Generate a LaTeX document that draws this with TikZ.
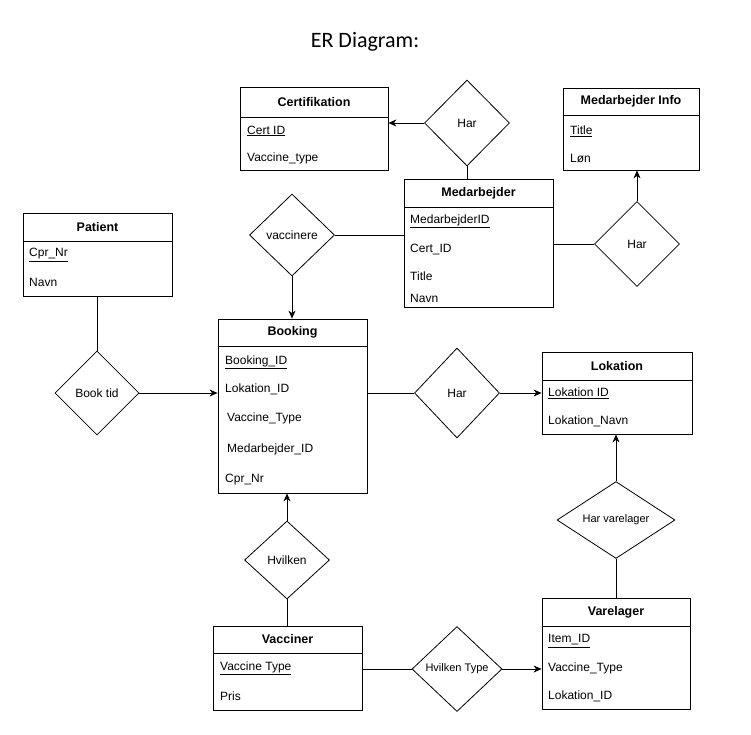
\documentclass[tikz,border=0pt]{standalone}
\usepackage{fontspec}
\setmainfont{Liberation Sans}
\newfontfamily\titlefont{Carlito}
\usetikzlibrary{shapes.geometric,arrows.meta}
\newcommand\pk[1]{\underline{#1}}
\begin{document}
\begin{tikzpicture}[x=1pt,y=-1pt,
  entity/.style={draw, line width=0.8pt, inner sep=0pt},
  hdr/.style={font=\fontsize{12.5}{14}\selectfont\bfseries, inner sep=0pt},
  attr/.style={font=\fontsize{12}{14}\selectfont, anchor=west, inner sep=0pt},
  rel/.style={draw, diamond, line width=0.8pt, inner sep=0pt, font=\fontsize{12}{14}\selectfont},
  link/.style={line width=0.8pt},
  arr/.style={line width=0.8pt, -{Stealth[length=8pt,width=7pt,inset=2.5pt]}}
]
\useasboundingbox (0,0) rectangle (751,734);

\node[font=\titlefont\fontsize{22}{26}\selectfont, inner sep=0pt] (title) at (365,42) {ER Diagram:};

% Certifikation
\node[entity, minimum width=148pt, minimum height=83pt] (cert) at (314,128.5) {};
\draw[link] (cert.west |- 0,117) -- (cert.east |- 0,117);
\node[hdr] (certH) at (314,102) {Certifikation};
\node[attr] (cert1) at (247,131) {\pk{Cert ID}};
\node[attr] (cert2) at (247,158) {Vaccine\_type};

% Medarbejder Info
\node[entity, minimum width=136pt, minimum height=82pt] (minfo) at (631,129) {};
\draw[link] (minfo.west |- 0,115) -- (minfo.east |- 0,115);
\node[hdr] (minfoH) at (631,101.5) {Medarbejder Info};
\node[attr] (minfo1) at (570,131) {\pk{Title}};
\node[attr] (minfo2) at (570,158) {Løn};

% Medarbejder
\node[entity, minimum width=149pt, minimum height=128pt] (med) at (478.5,243) {};
\draw[link] (med.west |- 0,207) -- (med.east |- 0,207);
\node[hdr] (medH) at (478.5,193) {Medarbejder};
\node[attr] (med1) at (410,221) {\pk{MedarbejderID}};
\node[attr] (med2) at (410,249) {Cert\_ID};
\node[attr] (med3) at (410,276) {Title};
\node[attr] (med4) at (410,298) {Navn};

% Patient
\node[entity, minimum width=149pt, minimum height=83pt] (pat) at (97.5,254.5) {};
\draw[link] (pat.west |- 0,241) -- (pat.east |- 0,241);
\node[hdr] (patH) at (97.5,227) {Patient};
\node[attr] (pat1) at (29,255) {\pk{Cpr\_Nr}};
\node[attr] (pat2) at (29,282) {Navn};

% Booking
\node[entity, minimum width=149pt, minimum height=174pt] (book) at (292.5,406) {};
\draw[link] (book.west |- 0,346) -- (book.east |- 0,346);
\node[hdr] (bookH) at (292.5,332.5) {Booking};
\node[attr] (book1) at (225,362) {\pk{Booking\_ID}};
\node[attr] (book2) at (225,389) {Lokation\_ID};
\node[attr] (book3) at (227,418) {Vaccine\_Type};
\node[attr] (book4) at (227,449) {Medarbejder\_ID};
\node[attr] (book5) at (225,480) {Cpr\_Nr};

% Lokation
\node[entity, minimum width=150pt, minimum height=82pt] (lok) at (617,393) {};
\draw[link] (lok.west |- 0,380) -- (lok.east |- 0,380);
\node[hdr] (lokH) at (617,366) {Lokation};
\node[attr] (lok1) at (548,393) {\pk{Lokation ID}};
\node[attr] (lok2) at (548,421) {Lokation\_Navn};

% Vacciner
\node[entity, minimum width=149pt, minimum height=84pt] (vac) at (287.5,668) {};
\draw[link] (vac.west |- 0,653) -- (vac.east |- 0,653);
\node[hdr] (vacH) at (287.5,639.5) {Vacciner};
\node[attr] (vac1) at (220,668) {\pk{Vaccine Type}};
\node[attr] (vac2) at (220,696) {Pris};

% Varelager
\node[entity, minimum width=148pt, minimum height=111pt] (vare) at (616,653.5) {};
\draw[link] (vare.west |- 0,626) -- (vare.east |- 0,626);
\node[hdr] (vareH) at (616,612) {Varelager};
\node[attr] (vare1) at (548,641) {\pk{Item\_ID}};
\node[attr] (vare2) at (548,668) {Vaccine\_Type};
\node[attr] (vare3) at (548,696) {Lokation\_ID};

% Relationships
\node[rel, minimum width=85pt, minimum height=86pt] (har1) at (467,123) {Har};
\node[rel, minimum width=85pt, minimum height=85pt] (har2) at (637,244) {Har};
\node[rel, minimum width=85pt, minimum height=82pt] (vacc) at (292,235) {vaccinere};
\node[rel, minimum width=84pt, minimum height=84pt] (btid) at (97,393) {Book tid};
\node[rel, minimum width=85pt, minimum height=90pt] (har3) at (457,393) {Har};
\node[rel, minimum width=85pt, minimum height=78pt] (hvil) at (287,560) {Hvilken};
\node[rel, minimum width=90pt, minimum height=85pt, font=\fontsize{11}{13}\selectfont] (hvtype) at (457,669) {Hvilken Type};
\node[rel, minimum width=118pt, minimum height=64pt, font=\fontsize{11}{13}\selectfont] (harv) at (616,520) {Har varelager};

% Connectors
\draw[arr] (har1.west) -- (har1.west -| cert.east);
\draw[link] (har1.south) -- (har1.south |- med.north);
\draw[link] (har2.west -| med.east) -- (har2.west);
\draw[arr] (har2.north) -- (har2.north |- minfo.south);
\draw[link] (vacc.east) -- (vacc.east -| med.west);
\draw[arr] (vacc.south) -- (vacc.south |- book.north);
\draw[link] (pat.south -| btid.north) -- (btid.north);
\draw[arr] (btid.east) -- (btid.east -| book.west);
\draw[link] (har3.west -| book.east) -- (har3.west);
\draw[arr] (har3.east) -- (har3.east -| lok.west);
\draw[arr] (hvil.north) -- (hvil.north |- book.south);
\draw[link] (hvil.south) -- (hvil.south |- vac.north);
\draw[link] (hvtype.west -| vac.east) -- (hvtype.west);
\draw[arr] (hvtype.east) -- (hvtype.east -| vare.west);
\draw[link] (harv.south) -- (harv.south |- vare.north);
\draw[arr] (harv.north) -- (harv.north |- lok.south);
\end{tikzpicture}
\end{document}
